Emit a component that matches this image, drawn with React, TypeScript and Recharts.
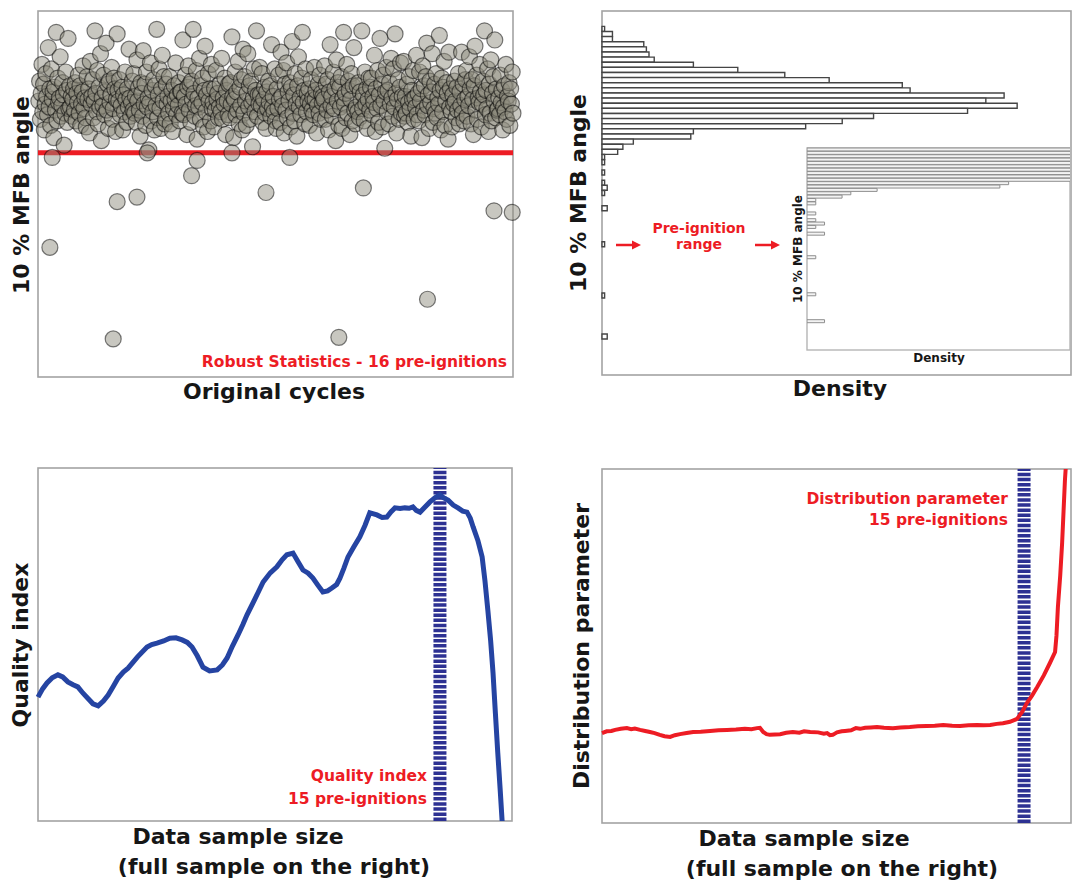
import React from 'react';
import { ScatterChart, Scatter, XAxis, YAxis, ReferenceLine, BarChart, Bar, LineChart, Line } from 'recharts';

const FONT = '"DejaVu Sans", "Liberation Sans", Arial, sans-serif';
const RED = '#ed1c24';
const BLUE = '#2544a2';
const BAND = '#2d3192';
const INK = '#161616';
const BOX = '#a3a3a3';

// ---------- Panel 1: 10 % MFB angle per cycle (cycles 1..600) ----------
const mfbBand = [
  12.8, 14.1, 11.6, 13.3, 15.2, 12.1, 13.9, 10.9, 12.6, 14.6, 13.1, 11.9, 16.3, 12.4, 13.6, 11.2, 14.9, 12.9, 13.4, 10.4,
  13.7, 12.2, 17.3, 11.5, 14.3, 12.7, 13.0, 15.7, 11.8, 12.5, 14.0, 13.2, 9.9, 12.0, 14.7, 13.5, 11.4, 16.9, 12.3, 13.8,
  12.4, 13.1, 11.8, 12.9, 13.6, 12.2, 14.0, 11.5, 13.3, 12.7, 14.5, 12.0, 13.8, 11.2, 12.6, 13.4, 15.1, 12.3, 13.0, 11.7,
  11.1, 14.4, 12.9, 13.6, 10.7, 15.4, 12.6, 13.1, 14.2, 11.7, 12.8, 17.4, 13.3, 12.1, 14.8, 11.3, 13.7, 12.4, 15.9, 10.2,
  13.0, 12.5, 14.5, 11.9, 13.4, 16.6, 12.2, 13.9, 11.0, 14.1, 12.7, 13.2, 15.0, 11.6, 12.3, 14.3, 13.6, 10.8, 12.9, 17.2,
  13.5, 12.8, 14.2, 11.9, 12.5, 13.7, 10.9, 13.2, 12.1, 14.7, 12.9, 11.4, 13.6, 12.4, 16.2, 13.0, 11.8, 12.7, 14.1, 12.2,
  14.6, 12.0, 13.1, 11.4, 15.5, 12.8, 13.7, 12.2, 10.5, 14.0, 13.3, 11.8, 16.1, 12.6, 13.9, 11.2, 14.7, 12.4, 13.0, 9.6,
  12.7, 15.3, 11.5, 13.5, 12.1, 14.2, 10.9, 13.8, 12.5, 17.5, 11.7, 13.2, 14.9, 12.3, 11.0, 13.6, 15.8, 12.8, 14.4, 11.3,
  11.6, 13.9, 12.6, 13.1, 12.0, 14.4, 11.3, 12.8, 13.5, 10.8, 12.3, 13.8, 12.9, 15.3, 11.9, 13.2, 12.5, 14.0, 11.5, 13.4,
  13.4, 12.0, 16.8, 11.9, 13.1, 14.5, 12.6, 10.6, 13.7, 15.1, 12.2, 13.9, 11.4, 14.1, 12.9, 17.5, 13.3, 11.8, 12.5, 14.8,
  10.3, 13.0, 12.4, 15.6, 11.6, 13.8, 12.7, 14.3, 11.1, 13.5, 16.4, 12.1, 13.2, 10.8, 14.6, 12.8, 13.6, 11.5, 15.2, 12.3,
  12.7, 11.1, 13.6, 12.2, 14.8, 12.9, 13.3, 11.7, 12.4, 13.9, 12.1, 15.6, 11.6, 13.0, 12.6, 14.3, 10.6, 13.5, 12.8, 11.9,
  13.9, 11.7, 14.0, 12.6, 17.0, 13.1, 10.4, 12.9, 14.7, 11.9, 13.4, 12.2, 15.4, 11.3, 13.7, 12.5, 14.2, 10.9, 16.2, 12.0,
  14.4, 12.8, 11.2, 13.3, 15.9, 12.4, 13.8, 11.6, 14.1, 12.7, 9.8, 13.0, 14.9, 12.1, 13.5, 17.4, 11.8, 13.2, 12.6, 15.0,
  13.2, 12.5, 14.6, 11.4, 12.9, 13.7, 12.0, 11.0, 13.4, 12.3, 14.1, 12.7, 13.8, 11.8, 16.5, 12.4, 13.1, 12.1, 14.9, 11.5,
  11.0, 13.6, 12.3, 14.5, 12.9, 11.4, 16.0, 13.1, 12.5, 14.8, 10.7, 13.9, 12.2, 15.3, 11.7, 13.4, 12.8, 14.0, 11.1, 13.7,
  16.7, 12.0, 13.2, 11.5, 14.6, 12.6, 10.5, 13.8, 15.7, 12.4, 13.0, 11.9, 14.3, 17.3, 12.7, 13.5, 11.3, 14.9, 12.1, 13.3,
  12.8, 13.6, 11.2, 12.6, 14.2, 12.2, 13.0, 11.9, 15.0, 12.9, 13.5, 10.7, 12.5, 13.9, 12.0, 14.5, 11.6, 13.3, 12.7, 13.1,
  12.9, 15.1, 11.6, 13.9, 12.2, 14.2, 10.9, 13.4, 16.5, 12.5, 13.1, 11.8, 14.7, 12.3, 13.6, 10.2, 15.5, 12.8, 14.0, 11.2,
  13.7, 12.4, 14.4, 11.0, 13.0, 17.3, 12.6, 13.3, 11.7, 15.2, 12.0, 14.1, 13.5, 10.6, 12.9, 14.6, 11.5, 13.8, 16.3, 12.2,
  11.3, 12.4, 13.8, 12.1, 14.0, 11.7, 13.4, 12.8, 17.4, 12.3, 13.2, 11.5, 14.7, 12.6, 13.6, 11.0, 12.9, 14.3, 12.2, 13.7,
  14.3, 11.9, 13.1, 12.7, 15.8, 10.8, 13.6, 12.3, 14.8, 11.4, 13.2, 16.9, 12.5, 13.9, 11.1, 14.5, 12.8, 9.7, 13.4, 15.0,
  12.1, 13.5, 11.3, 14.0, 12.6, 15.6, 13.0, 11.8, 14.9, 12.4, 17.2, 13.3, 10.7, 12.9, 14.2, 11.6, 13.7, 15.3, 12.0, 13.1,
  12.5, 15.4, 11.8, 13.1, 12.0, 13.9, 11.4, 12.7, 14.4, 12.3, 10.5, 13.5, 12.9, 14.8, 11.6, 13.0, 12.4, 15.8, 11.9, 13.3,
  11.5, 14.7, 12.8, 13.6, 10.4, 15.1, 12.2, 13.8, 11.9, 14.4, 16.6, 12.5, 13.2, 11.0, 14.1, 12.7, 13.4, 15.9, 11.4, 12.3,
  13.9, 12.0, 14.6, 11.7, 13.0, 12.6, 17.1, 13.5, 10.9, 14.3, 12.1, 13.7, 15.4, 11.2, 12.8, 14.0, 13.3, 10.3, 16.0, 12.4,
  13.6, 12.1, 11.1, 13.2, 12.6, 14.1, 12.8, 11.7, 13.7, 12.2, 14.6, 11.3, 13.4, 12.5, 16.0, 12.0, 13.9, 11.5, 12.9, 14.2,
  14.8, 11.8, 13.1, 12.5, 15.7, 13.6, 11.3, 14.2, 12.9, 10.6, 13.8, 16.4, 12.2, 14.5, 11.6, 13.0, 12.7, 15.2, 13.4, 11.1,
  12.6, 14.1, 13.2, 17.4, 11.9, 13.5, 12.3, 14.9, 10.8, 13.9, 12.0, 15.5, 11.5, 13.3, 14.4, 12.8, 16.8, 11.7, 13.6, 12.2,
  12.3, 13.0, 11.9, 14.5, 12.7, 13.5, 10.9, 12.4, 13.8, 12.1, 15.2, 11.6, 13.1, 12.8, 14.0, 11.2, 13.6, 12.6, 14.7, 12.0,
];
const outlierCycles = [15, 95, 100, 125, 194, 288, 380, 411, 492, 576, 599, 18, 138, 201, 245, 318];
const outlierAngles = [3.2, -2.8, 6.2, 6.5, 7.9, 6.8, -2.7, 7.1, -0.2, 5.6, 5.5, 9.1, 9.4, 8.9, 9.4, 9.1];
const robustThreshold = 9.4;

// ---------- Panel 2: density histogram ----------
const densityCounts = [
  0, 0, 0, 1, 4, 4, 16, 17, 18, 20,
  35, 52, 70, 87, 115, 118, 154, 147, 159, 140,
  104, 92, 78, 35, 34, 12, 8, 6, 1, 1,
  0, 1, 0, 1, 2, 1, 0, 0, 2, 0,
  0, 0, 0, 0, 0, 1, 0, 0, 0, 0,
  0, 0, 0, 0, 0, 1, 0, 0, 0, 0,
  0, 0, 0, 2, 0, 0, 0, 0, 0, 0, 0,
];
const insetCounts = [
  92, 88, 85, 78, 70, 61, 55, 47, 40, 33,
  23, 22, 8, 5, 4, 1, 1, 0, 0, 1,
  0, 1, 2, 1, 0, 2, 0, 0, 0, 0,
  0, 0, 1, 0, 0, 0, 0, 0, 0, 0,
  0, 0, 0, 1, 0, 0, 0, 0, 0, 0,
  0, 2, 0, 0, 0, 0, 0, 0, 0, 0,
];

// ---------- Panel 3: quality index ----------
const qualitySize = [
  0, 10, 19, 30, 42, 52, 63, 74, 84, 95, 105, 116, 127, 138, 148, 159, 169, 180, 190, 210,
  230, 240, 251, 265, 278, 291, 304, 315, 325, 336, 348, 362, 378, 389, 399, 410, 422, 432, 441, 458,
  475, 490, 504, 515, 525, 538, 548, 559, 570, 580, 590, 601, 611, 620, 630, 637, 645, 654, 667, 679,
  690, 700, 708, 715, 726, 736, 745, 753, 764, 774, 783, 791, 798, 806, 816, 827, 838, 848, 856, 865,
  876, 886, 896, 905, 912, 918, 928, 937, 943, 949, 955, 960, 965, 970, 975, 979, 985,
];
const qualityIndex = [
  35.1, 37.5, 39.1, 40.6, 41.4, 40.8, 39.4, 38.6, 38.0, 36.2, 34.8, 33.2, 32.6, 34.0, 35.7, 38.2, 40.5, 42.2, 43.3, 46.5,
  49.3, 50.0, 50.4, 51.0, 51.8, 51.9, 51.3, 50.6, 49.3, 46.8, 43.6, 42.5, 42.8, 44.2, 46.2, 49.5, 52.7, 55.6, 58.4, 63.0,
  67.7, 70.3, 72.0, 74.0, 75.4, 75.9, 73.6, 71.1, 70.2, 68.8, 66.9, 64.9, 65.2, 66.0, 67.0, 68.8, 71.5, 74.8, 77.8, 80.5,
  83.8, 87.3, 87.0, 86.7, 86.0, 86.1, 87.6, 88.7, 88.5, 88.7, 88.6, 89.0, 88.0, 87.5, 88.9, 90.4, 91.6, 92.4, 91.5, 90.9,
  89.5, 88.7, 87.8, 87.5, 85.8, 83.3, 79.5, 74.8, 68.0, 59.8, 51.0, 41.9, 30.5, 19.3, 9.0, 0.3, -11,
];
const qualityOptimum = 848;

// ---------- Panel 4: distribution parameter ----------
const distSize = [
  0, 10, 20, 28, 40, 53, 62, 70, 81, 92, 102, 112, 123, 133, 145, 155, 166, 180, 194, 210,
  230, 248, 266, 285, 304, 318, 330, 336, 343, 350, 357, 368, 379, 392, 406, 420, 430, 443, 460, 472,
  479, 485, 491, 500, 510, 517, 530, 540, 549, 560, 572, 585, 600, 619, 635, 655, 672, 691, 708, 726,
  745, 762, 780, 798, 812, 826, 840, 853, 868, 883, 894, 904, 915, 926, 940, 953, 964, 967, 970, 975,
  979, 982, 985, 989,
];
const distParam = [
  25.4, 25.9, 26.0, 26.3, 26.6, 26.8, 26.5, 26.7, 26.3, 26.0, 25.7, 25.4, 24.9, 24.5, 24.3, 24.8, 25.1, 25.4, 25.7, 25.8,
  26.0, 26.2, 26.3, 26.4, 26.6, 26.5, 26.8, 26.9, 25.7, 25.1, 24.9, 25.0, 25.1, 25.5, 25.7, 25.5, 25.9, 25.7, 25.6, 25.2,
  25.4, 24.8, 24.9, 25.6, 25.9, 26.0, 26.2, 26.8, 26.6, 26.9, 27.0, 27.1, 26.9, 26.8, 27.0, 27.1, 27.3, 27.4, 27.5, 27.7,
  27.5, 27.4, 27.6, 27.7, 27.6, 27.7, 28.0, 28.2, 28.6, 29.4, 31.4, 33.9, 36.0, 38.4, 41.7, 45.2, 48.3, 53.0, 61.0, 70.0,
  79.1, 88.0, 96.9, 105,
];
const distOptimum = 898;

// ---------- tables built from the arrays ----------
const bandData = mfbBand.map((angle, i) => ({ cycle: i + 1, angle }));
const outlierData = outlierCycles.map((cycle, i) => ({ cycle, angle: outlierAngles[i] }));
const histData = densityCounts.map((count, i) => ({ bin: i, count }));
const insetData = insetCounts.map((count, i) => ({ bin: i, count }));
const qualityData = qualitySize.map((size, i) => ({ size, q: qualityIndex[i] }));
const distData = distSize.map((size, i) => ({ size, p: distParam[i] }));

const T = ({ x, y, children, size = 22, anchor = 'middle', color = INK, rotate = false }: any) => (
  <text
    x={x}
    y={y}
    textAnchor={anchor}
    fontFamily={FONT}
    fontWeight="bold"
    fontSize={size}
    fill={color}
    transform={rotate ? `rotate(-90 ${x} ${y})` : undefined}
  >
    {children}
  </text>
);

const Arrow = ({ x1, x2, y }: any) => (
  <g>
    <line x1={x1} y1={y} x2={x2 - 7} y2={y} stroke={RED} strokeWidth={2.5} />
    <polygon points={`${x2},${y} ${x2 - 9},${y - 4.5} ${x2 - 9},${y + 4.5}`} fill={RED} />
  </g>
);

const dot = (p: any) => (
  <circle
    cx={p.cx}
    cy={p.cy}
    r={8}
    fill="#8d897c"
    fillOpacity={0.48}
    stroke="#000"
    strokeOpacity={0.5}
    strokeWidth={1.2}
  />
);

const abs = (left: number, top: number): React.CSSProperties => ({ position: 'absolute', left, top });

export default function App() {
  return (
    <div style={{ position: 'absolute', left: 0, top: 0, width: 1072, height: 881, background: '#fff', overflow: 'hidden' }}>
      {/* Panel 1 */}
      <div style={abs(0, 0)}>
        <ScatterChart width={540} height={420} margin={{ top: 11, right: 27, bottom: 0, left: 0 }}>
          <XAxis type="number" dataKey="cycle" domain={[0, 600]} height={43} tick={false} axisLine={false} tickLine={false} />
          <YAxis type="number" dataKey="angle" domain={[-5.3, 18.7]} width={38} tick={false} axisLine={false} tickLine={false} />
          <rect x={38} y={11} width={475} height={366} fill="none" stroke={BOX} strokeWidth={1.6} />
          <Scatter data={bandData} shape={dot} isAnimationActive={false} />
          <Scatter data={outlierData} shape={dot} isAnimationActive={false} />
          <ReferenceLine y={robustThreshold} stroke={RED} strokeWidth={5} />
          <T x={29} y={195} rotate>10 % MFB angle</T>
          <T x={274} y={399}>Original cycles</T>
          <T x={507} y={367} size={15.5} anchor="end" color={RED}>Robust Statistics - 16 pre-ignitions</T>
        </ScatterChart>
      </div>

      {/* Panel 2 */}
      <div style={abs(560, 0)}>
        <BarChart width={512} height={420} layout="vertical" data={histData} barCategoryGap={0} barGap={0}
          margin={{ top: 11, right: 0, bottom: 0, left: 0 }}>
          <XAxis type="number" domain={[0, 180]} height={45} tick={false} axisLine={false} tickLine={false} />
          <YAxis type="category" dataKey="bin" width={42} tick={false} axisLine={false} tickLine={false} />
          <rect x={42} y={11} width={469} height={364} fill="none" stroke={BOX} strokeWidth={1.6} />
          <Bar dataKey="count" fill="#fff" stroke="#454545" strokeWidth={1.4} isAnimationActive={false} />
          <T x={26} y={193} rotate>10 % MFB angle</T>
          <T x={280} y={396}>Density</T>
          <T x={139} y={233} size={14} color={RED}>Pre-ignition</T>
          <T x={139} y={249} size={14} color={RED}>range</T>
          <Arrow x1={56} x2={81} y={245} />
          <Arrow x1={195} x2={220} y={245} />
        </BarChart>
      </div>

      {/* Inset of panel 2 */}
      <div style={abs(780, 140)}>
        <BarChart width={292} height={230} layout="vertical" data={insetData} barCategoryGap={0} barGap={0}
          margin={{ top: 8, right: 2, bottom: 0, left: 0 }}>
          <XAxis type="number" domain={[0, 30]} allowDataOverflow height={20} tick={false} axisLine={false} tickLine={false} />
          <YAxis type="category" dataKey="bin" width={27} tick={false} axisLine={false} tickLine={false} />
          <rect x={27} y={8} width={263} height={202} fill="#fff" stroke="#b5b5b5" strokeWidth={1.4} />
          <Bar dataKey="count" fill="#f3f3f3" stroke="#8e8e8e" strokeWidth={1} isAnimationActive={false} />
          <T x={22} y={109} size={12} rotate>10 % MFB angle</T>
          <T x={159} y={222} size={12}>Density</T>
        </BarChart>
      </div>

      {/* Panel 3 */}
      <div style={abs(0, 440)}>
        <LineChart width={540} height={441} data={qualityData} margin={{ top: 28, right: 28, bottom: 0, left: 0 }}>
          <XAxis type="number" dataKey="size" domain={[0, 1000]} height={60} tick={false} axisLine={false} tickLine={false} />
          <YAxis type="number" domain={[0, 100]} allowDataOverflow width={38} tick={false} axisLine={false} tickLine={false} />
          <rect x={38} y={28} width={474} height={353} fill="none" stroke={BOX} strokeWidth={1.6} />
          <ReferenceLine x={qualityOptimum} stroke={BAND} strokeWidth={13} strokeDasharray="3.5 1.6" />
          <Line type="linear" dataKey="q" stroke={BLUE} strokeWidth={5} dot={false} isAnimationActive={false} />
          <T x={28} y={205} rotate>Quality index</T>
          <T x={238} y={404}>Data sample size</T>
          <T x={274} y={434}>(full sample on the right)</T>
          <T x={427} y={341} size={15.5} anchor="end" color={RED}>Quality index</T>
          <T x={427} y={364} size={15.5} anchor="end" color={RED}>15 pre-ignitions</T>
        </LineChart>
      </div>

      {/* Panel 4 */}
      <div style={abs(560, 440)}>
        <LineChart width={512} height={441} data={distData} margin={{ top: 29, right: 0, bottom: 0, left: 0 }}>
          <XAxis type="number" dataKey="size" domain={[0, 1000]} height={58} tick={false} axisLine={false} tickLine={false} />
          <YAxis type="number" domain={[0, 100]} allowDataOverflow width={42} tick={false} axisLine={false} tickLine={false} />
          <rect x={42} y={29} width={469} height={354} fill="none" stroke={BOX} strokeWidth={1.6} />
          <ReferenceLine x={distOptimum} stroke={BAND} strokeWidth={13} strokeDasharray="3.5 1.6" />
          <Line type="linear" dataKey="p" stroke={RED} strokeWidth={4} dot={false} isAnimationActive={false} />
          <T x={29} y={206} rotate>Distribution parameter</T>
          <T x={244} y={406}>Data sample size</T>
          <T x={282} y={436}>(full sample on the right)</T>
          <T x={448} y={64} size={15.5} anchor="end" color={RED}>Distribution parameter</T>
          <T x={448} y={85} size={15.5} anchor="end" color={RED}>15 pre-ignitions</T>
        </LineChart>
      </div>
    </div>
  );
}
